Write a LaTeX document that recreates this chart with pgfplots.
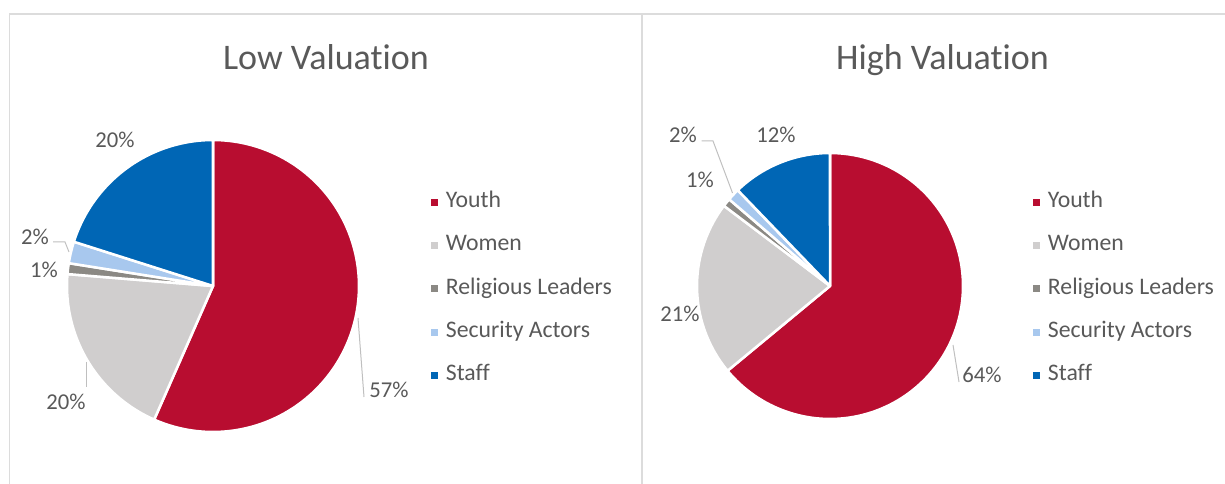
\documentclass[border=0pt]{standalone}
\usepackage{pgfplots}
\usepackage{pgfplotstable}
\pgfplotsset{compat=1.18}
\usepackage{fontspec}
\setmainfont{Carlito}[Ligatures={NoCommon}]

\definecolor{youth}{HTML}{B80D30}
\definecolor{women}{HTML}{D0CECE}
\definecolor{relig}{HTML}{8B8984}
\definecolor{secur}{HTML}{A8C8EE}
\definecolor{staff}{HTML}{0066B5}
\definecolor{txt}{HTML}{595959}
\definecolor{frame}{HTML}{DCDCDC}
\definecolor{leader}{HTML}{BFBFBF}

% Shares (%) in Excel order: clockwise from 12 o'clock
\pgfplotstableread{
group value
Youth 56.6
Women 19.7
Religious 1.2
Security 2.4
Staff 20.1
}\lowdata
\pgfplotstableread{
group value
Youth 64.0
Women 21.3
Religious 1.0
Security 1.5
Staff 12.2
}\highdata
\pgfplotstablecreatecol[create col/expr accum={\pgfmathaccuma + \thisrow{value}}{0}]{cum}\lowdata
\pgfplotstablecreatecol[create col/expr accum={\pgfmathaccuma + \thisrow{value}}{0}]{cum}\highdata

% #1 table, #2 row, #3 colour, #4 cx, #5 cy, #6 radius
\newcommand\slice[6]{%
  \pgfplotstablegetelem{#2}{cum}\of#1\let\cend\pgfplotsretval
  \pgfplotstablegetelem{#2}{value}\of#1\let\cval\pgfplotsretval
  \pgfmathsetmacro\tA{-90+3.6*(\cend-\cval)}%
  \pgfmathsetmacro\tB{-90+3.6*\cend}%
  \edef\doslice{\noexpand\addplot[fill=#3, draw=white, line width=1.9pt, line join=round, domain=\tA:\tB, samples=120, forget plot] ({#4+#6*cos(x)},{#5+#6*sin(x)}) -- (axis cs:#4,#5) -- cycle;}%
  \doslice
}

\pgfplotsset{
  canvas/.style={at={(0,0)}, anchor=south west, scale only axis,
    width=918.75pt, height=363pt, xmin=0, xmax=1225, ymin=0, ymax=484,
    y dir=reverse, axis lines=none, clip=false,
    legend cell align=left,
    legend image code/.code={\fill[##1, draw=none] (0pt,-2.6pt) rectangle (5.2pt,2.6pt);},
    legend style={draw=none, fill=none, inner sep=0pt, outer sep=0pt,
      row sep=16.5pt, column sep=6pt,
      font=\fontsize{17.8}{21}\selectfont, text=txt,
      nodes={inner sep=0pt, text height=12pt, text depth=4pt}},
  },
}
\tikzset{
  lab/.style={font=\fontsize{17}{20}\selectfont, text=txt, anchor=base, inner sep=0pt},
  ttl/.style={font=\fontsize{27}{32}\selectfont, text=txt, anchor=base, inner sep=0pt},
  lead/.style={draw=leader, line width=0.75pt},
}

\begin{document}
\begin{tikzpicture}
% ---------------- Low Valuation ----------------
\begin{axis}[canvas, legend style={at={(axis cs:431,191.5)}, anchor=north west}]
  \draw[frame, line width=1.1pt] (axis cs:9.5,484) -- (axis cs:9.5,14) -- (axis cs:1225,14);
  \draw[frame, line width=1.1pt] (axis cs:642,14) -- (axis cs:642,484);
  \slice{\lowdata}{0}{youth}{213}{286}{146}
  \slice{\lowdata}{1}{women}{213}{286}{146}
  \slice{\lowdata}{2}{relig}{213}{286}{146}
  \slice{\lowdata}{3}{secur}{213}{286}{146}
  \slice{\lowdata}{4}{staff}{213}{286}{146}
  \addlegendimage{fill=youth}\addlegendentry{Youth}
  \addlegendimage{fill=women}\addlegendentry{Women}
  \addlegendimage{fill=relig}\addlegendentry{Religious Leaders}
  \addlegendimage{fill=secur}\addlegendentry{Security Actors}
  \addlegendimage{fill=staff}\addlegendentry{Staff}
  \node[ttl] at (axis cs:326,70) {Low Valuation};
  \node[lab] at (axis cs:389,398) {57\%};
  \node[lab] at (axis cs:66,410) {20\%};
  \node[lab] at (axis cs:44,278) {1\%};
  \node[lab] at (axis cs:35,245) {2\%};
  \node[lab] at (axis cs:115,148) {20\%};
  \draw[lead] (axis cs:358,318) -- (axis cs:364,397);
  \draw[lead] (axis cs:86,362) -- (axis cs:86,387);
  \draw[lead] (axis cs:53,242) -- (axis cs:65,242) -- (axis cs:69,252);
\end{axis}
% ---------------- High Valuation ----------------
\begin{axis}[canvas, legend style={at={(axis cs:1033,191.5)}, anchor=north west}]
  \slice{\highdata}{0}{youth}{830}{286}{133}
  \slice{\highdata}{1}{women}{830}{286}{133}
  \slice{\highdata}{2}{relig}{830}{286}{133}
  \slice{\highdata}{3}{secur}{830}{286}{133}
  \slice{\highdata}{4}{staff}{830}{286}{133}
  \addlegendimage{fill=youth}\addlegendentry{Youth}
  \addlegendimage{fill=women}\addlegendentry{Women}
  \addlegendimage{fill=relig}\addlegendentry{Religious Leaders}
  \addlegendimage{fill=secur}\addlegendentry{Security Actors}
  \addlegendimage{fill=staff}\addlegendentry{Staff}
  \node[ttl] at (axis cs:942.5,70) {High Valuation};
  \node[lab] at (axis cs:982,383) {64\%};
  \node[lab] at (axis cs:680,321.7) {21\%};
  \node[lab] at (axis cs:700,188) {1\%};
  \node[lab] at (axis cs:683,143) {2\%};
  \node[lab] at (axis cs:776,143) {12\%};
  \draw[lead] (axis cs:953,345) -- (axis cs:959,382);
  \draw[lead] (axis cs:701.5,141) -- (axis cs:713,141) -- (axis cs:732.5,193);
\end{axis}
\pgfresetboundingbox
\path (0,0) rectangle (918.75pt,363pt);
\end{tikzpicture}
\end{document}
